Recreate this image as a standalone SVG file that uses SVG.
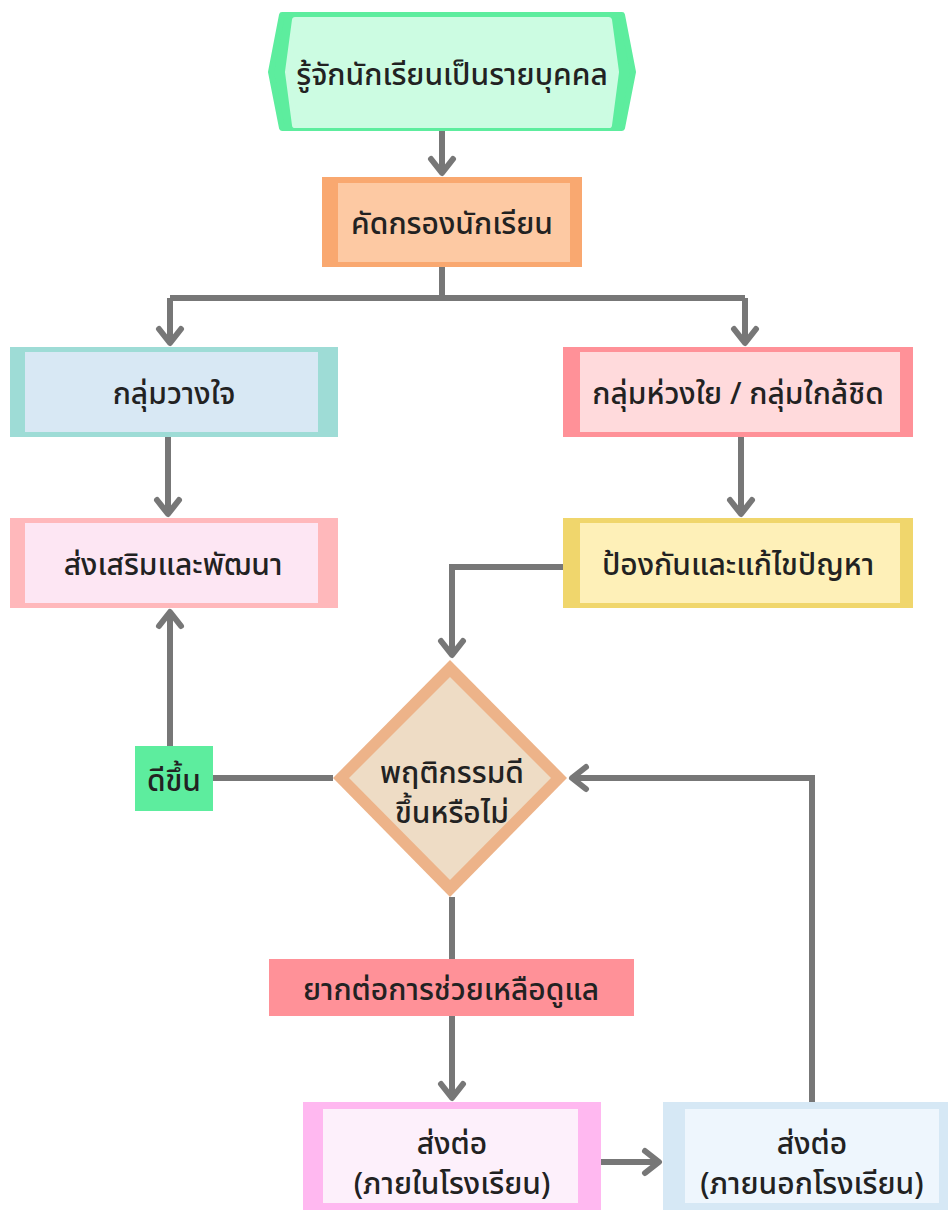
<svg xmlns="http://www.w3.org/2000/svg" width="950" height="1210" viewBox="0 0 950 1210">
<defs>
<style>
text{font-family:"Noto Sans","Noto Sans Thai",sans-serif;font-size:30px;font-weight:500;fill:#222;text-anchor:middle;dominant-baseline:central}
.c{fill:none;stroke:#777;stroke-width:6}
</style>
<marker id="ah" markerUnits="userSpaceOnUse" markerWidth="30" markerHeight="30" viewBox="-20 -15 25 30" refX="0" refY="0" orient="auto" overflow="visible">
<path d="M-14,-11 L0,0 L-14,11" fill="none" stroke="#777" stroke-width="6" stroke-linecap="round" stroke-linejoin="round"/>
</marker>
</defs>
<rect width="950" height="1210" fill="#fff"/>
<g id="connectors">
<path class="c" d="M442,130 V173" marker-end="url(#ah)"/>
<path class="c" d="M442,267 V298"/>
<path class="c" d="M170,298 H745"/>
<path class="c" d="M170,298 V343" marker-end="url(#ah)"/>
<path class="c" d="M745,298 V343" marker-end="url(#ah)"/>
<path class="c" d="M168,437 V514" marker-end="url(#ah)"/>
<path class="c" d="M741,437 V514" marker-end="url(#ah)"/>
<path class="c" d="M563,567 H452 V655" marker-end="url(#ah)"/>
<path class="c" d="M333,778 H213"/>
<path class="c" d="M170,746 V612" marker-end="url(#ah)"/>
<path class="c" d="M452,897 V959"/>
<path class="c" d="M452,1016 V1098" marker-end="url(#ah)"/>
<path class="c" d="M601,1162 H659" marker-end="url(#ah)"/>
<path class="c" d="M812,1102 V778 H572" marker-end="url(#ah)"/>
</g>
<g id="n1">
<path d="M282,15 H622 L633,72 L622,128 H282 L271,72 Z" fill="#5ded9e" stroke="#5ded9e" stroke-width="6" stroke-linejoin="round"/>
<path d="M295,20 H609 L616,72 L609,125 H295 L288,72 Z" fill="#ccfce2" stroke="#ccfce2" stroke-width="6" stroke-linejoin="round"/>
<text x="452" y="73" font-size="32">รู้จักนักเรียนเป็นรายบุคคล</text>
</g>
<g id="n2">
<rect x="322" y="177" width="260" height="90" fill="#f9a870"/>
<rect x="338" y="183" width="232" height="79" fill="#fdc9a3"/>
<text x="452" y="222" font-size="29">คัดกรองนักเรียน</text>
</g>
<g id="n3">
<rect x="10" y="347" width="328" height="90" fill="#9edcd6"/>
<rect x="25" y="352" width="293" height="80" fill="#d8e8f4"/>
<text x="174" y="392">กลุ่มวางใจ</text>
</g>
<g id="n4">
<rect x="563" y="347" width="350" height="90" fill="#ff9198"/>
<rect x="580" y="352" width="320" height="80" fill="#ffdadc"/>
<text x="738" y="392">กลุ่มห่วงใย / กลุ่มใกล้ชิด</text>
</g>
<g id="n5">
<rect x="10" y="518" width="328" height="90" fill="#ffb8bb"/>
<rect x="25" y="523" width="293" height="80" fill="#fde6f3"/>
<text x="173" y="563">ส่งเสริมและพัฒนา</text>
</g>
<g id="n6">
<rect x="563" y="518" width="350" height="90" fill="#f0d66c"/>
<rect x="580" y="523" width="320" height="80" fill="#fef0b8"/>
<text x="738" y="563">ป้องกันและแก้ไขปัญหา</text>
</g>
<g id="n7">
<polygon points="450,660 567,778 450,897 333,778" fill="#edb389"/>
<polygon points="450,677 551,778 450,880 349,778" fill="#eedcc5"/>
<text x="452" y="771" font-size="23">พฤติกรรมดี</text>
<text x="452" y="811" font-size="23">ขึ้นหรือไม่</text>
</g>
<g id="n8">
<rect x="135" y="746" width="78" height="65" fill="#5ded9e"/>
<text x="174" y="779">ดีขึ้น</text>
</g>
<g id="n9">
<rect x="269" y="959" width="365" height="57" fill="#ff9198"/>
<text x="451" y="988">ยากต่อการช่วยเหลือดูแล</text>
</g>
<g id="n10">
<rect x="303" y="1102" width="298" height="108" fill="#ffb8f0"/>
<rect x="323" y="1109" width="255" height="94" fill="#fdf0fb"/>
<text x="452" y="1142">ส่งต่อ</text>
<text x="452" y="1182">(ภายในโรงเรียน)</text>
</g>
<g id="n11">
<rect x="663" y="1102" width="285" height="108" fill="#d6e8f5"/>
<rect x="685" y="1109" width="254" height="94" fill="#eef6fd"/>
<text x="812" y="1142">ส่งต่อ</text>
<text x="812" y="1182">(ภายนอกโรงเรียน)</text>
</g>
</svg>
